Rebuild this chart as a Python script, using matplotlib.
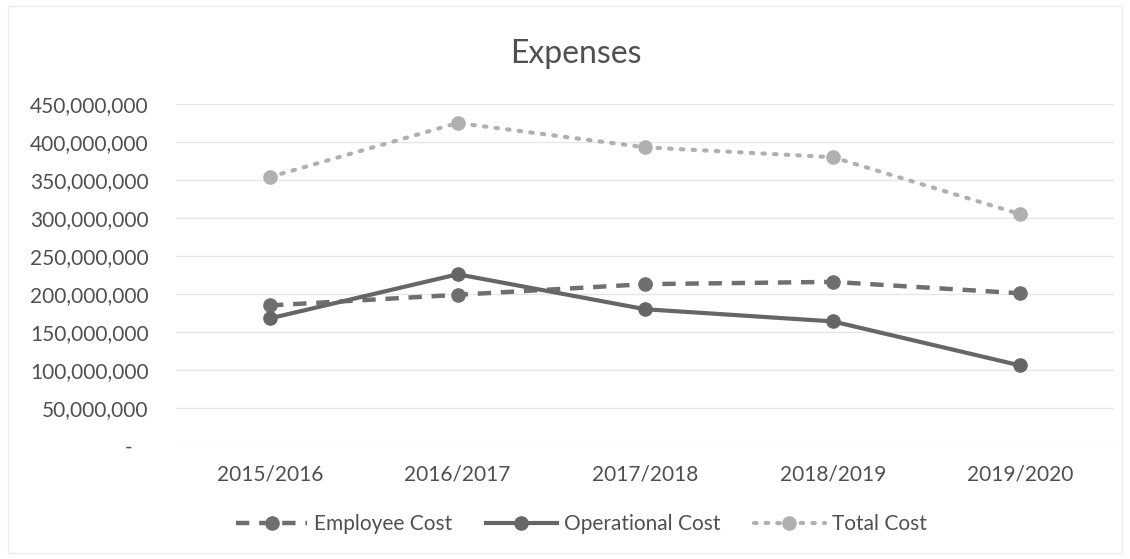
import numpy as np
import matplotlib
matplotlib.use("Agg")
from matplotlib import pyplot as plt
from matplotlib.ticker import FuncFormatter

# data
years = ["2015/2016", "2016/2017", "2017/2018", "2018/2019", "2019/2020"]
employeeCost = [185e6, 199e6, 213e6, 216e6, 201e6]
operationalCost = [168e6, 226e6, 180e6, 164e6, 106e6]
totalCost = [354e6, 425e6, 393e6, 380e6, 305e6]

plt.rcParams['font.family'] = ['Lato', 'DejaVu Sans']

fig = plt.figure(figsize=(11.3, 5.59), dpi=100)
ax = fig.add_axes([0.156, 0.202, 0.83, 0.612])

x = np.arange(len(years))
ax.plot(x, employeeCost, color='#6f6f6f', lw=3.2, ls=(0, (3, 2.2)),
        marker='o', ms=9.5, label="Employee Cost", zorder=3)
ax.plot(x, operationalCost, color='#666666', lw=3, ls='-',
        marker='o', ms=9.5, label="Operational Cost", zorder=3)
ax.plot(x, totalCost, color='#b0b0b0', lw=3, ls=(0, (0.6, 2.2)),
        dash_capstyle='round', marker='o', ms=9.5, label="Total Cost", zorder=3)

def fmt(v, pos):
    if v == 0:
        return "-   "
    return "{:,.0f}".format(v)

ax.set_xlim(-0.5, 4.5)
ax.set_ylim(0, 450e6)
ax.set_yticks(np.arange(0, 450e6 + 1, 50e6))
ax.yaxis.set_major_formatter(FuncFormatter(fmt))
ax.set_xticks(x)
ax.set_xticklabels(years)
ax.tick_params(axis='both', length=0, labelsize=15, colors='#505050')
ax.tick_params(axis='x', pad=13)
ax.tick_params(axis='y', pad=20)
ax.grid(axis='y', color='#e6e6e6', lw=1)
ax.set_axisbelow(True)
for s in ax.spines.values():
    s.set_visible(False)

fig.suptitle("Expenses", x=0.51, y=0.93, fontsize=23, color='#505050')
ax.legend(loc='center', bbox_to_anchor=(0.432, -0.228), ncol=3, frameon=False,
          fontsize=15, handlelength=3.4, handletextpad=0.35, columnspacing=1.6,
          labelcolor='#505050')

fig.patches.append(plt.Rectangle((0.007, 0.01), 0.986, 0.98, transform=fig.transFigure,
                                 fill=False, ec='#ececec', lw=1))
plt.savefig("out.png", dpi=100)
